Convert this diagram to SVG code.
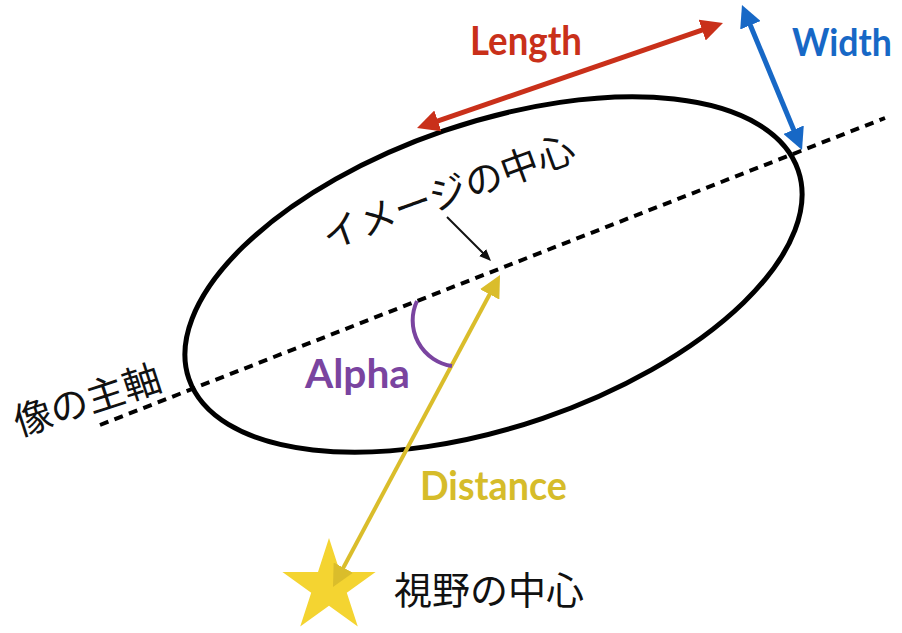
<svg xmlns="http://www.w3.org/2000/svg" width="902" height="633" viewBox="0 0 902 633">
  <style>
    .lbl { font-family: "Lato", "Liberation Sans", sans-serif; font-weight: 700; font-size: 40px; }
    .jp { font-family: "Noto Sans CJK JP", "Noto Sans CJK SC", sans-serif; font-size: 37px; fill: #111; }
    .arr { fill: none; stroke-width: 5; }
  </style>
  <defs>
    <marker id="mRed" viewBox="0 0 22 22" markerWidth="22" markerHeight="22" refX="12" refY="11" markerUnits="userSpaceOnUse" orient="auto-start-reverse">
      <path d="M0,0 L22,11 L0,22 z" fill="#C9301A"/>
    </marker>
    <marker id="mBlue" viewBox="0 0 22 22" markerWidth="22" markerHeight="22" refX="12" refY="11" markerUnits="userSpaceOnUse" orient="auto-start-reverse">
      <path d="M0,0 L22,11 L0,22 z" fill="#1768C6"/>
    </marker>
    <marker id="mYellow" viewBox="0 0 22 22" markerWidth="22" markerHeight="22" refX="12" refY="11" markerUnits="userSpaceOnUse" orient="auto-start-reverse">
      <path d="M0,0 L22,11 L0,22 z" fill="#DABD2B"/>
    </marker>
    <marker id="mBlack" viewBox="0 0 12 10" markerWidth="12" markerHeight="10" refX="6" refY="5" markerUnits="userSpaceOnUse" orient="auto">
      <path d="M0,0 L12,5 L0,10 z" fill="#111"/>
    </marker>
  </defs>

  <g id="image-ellipse">
    <ellipse cx="493.5" cy="274.5" rx="322" ry="152" transform="rotate(-18.9 493.5 274.5)" fill="none" stroke="#000" stroke-width="5"/>
  </g>

  <g id="field-center-star">
    <polygon points="329,538 340,571.9 375.6,571.9 346.8,592.8 357.8,626.6 329,605.7 300.2,626.6 311.2,592.8 282.4,571.9 318,571.9" fill="#F4D431"/>
  </g>

  <g id="connectors">
    <line id="major-axis" x1="100" y1="425" x2="885" y2="118" stroke="#000" stroke-width="4" stroke-dasharray="9 6.5"/>
    <line id="length-arrow" class="arr" x1="426.5" y1="124.8" x2="713.5" y2="26.2" stroke="#C9301A" marker-start="url(#mRed)" marker-end="url(#mRed)"/>
    <line id="width-arrow" class="arr" x1="745.8" y1="14.2" x2="798.2" y2="140.8" stroke="#1768C6" marker-start="url(#mBlue)" marker-end="url(#mBlue)"/>
    <line id="distance-arrow" x1="337.7" y1="578.2" x2="495.3" y2="283.8" stroke="#DABD2B" stroke-width="4" marker-start="url(#mYellow)" marker-end="url(#mYellow)"/>
    <line id="center-pointer" x1="447" y1="217" x2="486.8" y2="256.8" stroke="#111" stroke-width="2" marker-end="url(#mBlack)"/>
    <path id="alpha-arc" d="M417,301 A46,46 0 0 0 452,366" fill="none" stroke="#7A44A0" stroke-width="4"/>
  </g>

  <g id="labels">
    <text class="lbl" x="470" y="55" fill="#C9301A" textLength="112" lengthAdjust="spacingAndGlyphs">Length</text>
    <text class="lbl" style="font-size:38px" x="792" y="56" fill="#1768C6" textLength="100" lengthAdjust="spacingAndGlyphs">Width</text>
    <text class="lbl" x="305" y="388" fill="#7A44A0" textLength="105" lengthAdjust="spacingAndGlyphs">Alpha</text>
    <text class="lbl" x="420" y="500" fill="#D6BC2A" textLength="147" lengthAdjust="spacingAndGlyphs">Distance</text>
    <text class="jp" style="font-size:38px" transform="translate(453 205) rotate(-20)" text-anchor="middle">イメージの中心</text>
    <text class="jp" style="font-size:38px" transform="translate(91.5 413) rotate(-18)" text-anchor="middle">像の主軸</text>
    <text class="jp" style="font-size:38px" x="394" y="604">視野の中心</text>
  </g>
</svg>
